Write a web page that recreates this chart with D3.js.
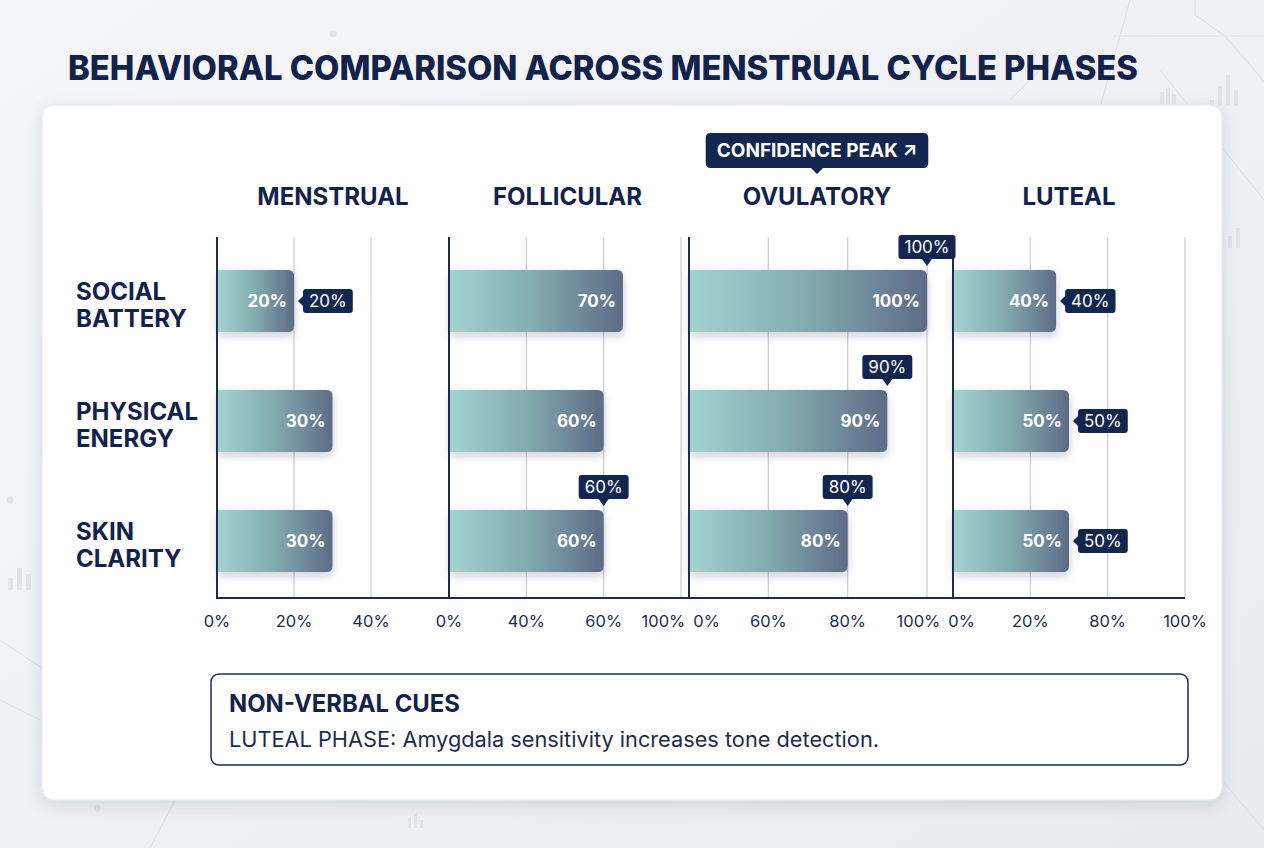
<!DOCTYPE html>
<html><head><meta charset="utf-8">
<script src="https://cdn.jsdelivr.net/npm/d3@7"></script>
<style>
body{margin:0;background:#eef0f3;}
svg{display:block;font-family:Inter,"Noto Sans",sans-serif;}
</style>
</head><body>
<svg id="c" width="1264" height="848"></svg>
<script>
// ---------- DATA ----------
const chartTitle = "BEHAVIORAL COMPARISON ACROSS MENSTRUAL CYCLE PHASES";
const phases = ["MENSTRUAL", "FOLLICULAR", "OVULATORY", "LUTEAL"];
const metrics = [["SOCIAL", "BATTERY"], ["PHYSICAL", "ENERGY"], ["SKIN", "CLARITY"]];
const menstrualValues = [20, 30, 30];
const follicularValues = [70, 60, 60];
const ovulatoryValues = [100, 90, 80];
const lutealValues = [40, 50, 50];
const menstrualTicks = [0, 20, 40];
const follicularTicks = [0, 40, 60, 100];
const ovulatoryTicks = [0, 60, 80, 100];
const lutealTicks = [0, 20, 80, 100];
const menstrualCallouts = ["right", null, null];
const follicularCallouts = [null, null, "top"];
const ovulatoryCallouts = ["top", "top", "top"];
const lutealCallouts = ["right", "right", "right"];
const badgeText = "CONFIDENCE PEAK \u2197";
const badgePhase = "OVULATORY";
const noteTitle = "NON-VERBAL CUES";
const noteBody = "LUTEAL PHASE: Amygdala sensitivity increases tone detection.";

const phaseValues = [menstrualValues, follicularValues, ovulatoryValues, lutealValues];
const phaseTicks = [menstrualTicks, follicularTicks, ovulatoryTicks, lutealTicks];
const phaseCallouts = [menstrualCallouts, follicularCallouts, ovulatoryCallouts, lutealCallouts];

// ---------- LAYOUT ----------
const NAVY = "#13224a";
const CALLOUT = "#132650";
const panelStart = [217, 449, 689, 953];
const panelSpan = [154, 232, 238, 232];
const panelEnd = [449, 686, 945, 1185];
const plotTop = 237, plotBottom = 598;

const svg = d3.select("#c");
const defs = svg.append("defs");

// background gradient
const bg = defs.append("linearGradient").attr("id", "bg").attr("x1", 0).attr("y1", 0).attr("x2", 1).attr("y2", 1);
bg.append("stop").attr("offset", 0).attr("stop-color", "#f5f6f8");
bg.append("stop").attr("offset", 1).attr("stop-color", "#e8ebef");
svg.append("rect").attr("width", 1264).attr("height", 848).attr("fill", "url(#bg)");

// decorative faint background lines
const deco = svg.append("g").attr("stroke", "#dde0e5").attr("fill", "none").attr("stroke-width", 1);
[[[1130, 0], [1060, 250]], [[1195, 0], [1195, 15], [1225, 36], [1264, 36]], [[1113, 36], [1225, 36]],
 [[1225, 36], [1280, 100]], [[1060, 50], [1010, 100]], [[1160, 70], [1264, 200]],
 [[0, 640], [45, 670]], [[0, 700], [40, 720]], [[1222, 780], [1264, 830]], [[150, 848], [175, 800]]]
  .forEach(p => deco.append("path").attr("d", d3.line()(p)));
const decoBars = svg.append("g").attr("fill", "#e0e3e8");
[[1160, 92, 4, 12], [1166, 88, 4, 16], [1172, 94, 4, 10], [1210, 100, 4, 6], [1218, 86, 4, 20], [1226, 75, 4, 31], [1234, 90, 4, 16],
 [8, 578, 5, 12], [17, 568, 5, 22], [26, 574, 5, 16], [1228, 236, 4, 12], [1236, 228, 4, 20],
 [408, 818, 3, 10], [414, 814, 3, 14], [420, 820, 3, 8]]
  .forEach(b => decoBars.append("rect").attr("x", b[0]).attr("y", b[1]).attr("width", b[2]).attr("height", b[3]));
[[333, 34], [10, 500], [97, 808]].forEach(d => svg.append("circle").attr("cx", d[0]).attr("cy", d[1]).attr("r", 3.5).attr("fill", "#dfe2e7"));

// title
svg.append("text").attr("x", 68).attr("y", 80).attr("fill", NAVY)
  .attr("font-size", 34).attr("font-weight", 800)
  .attr("textLength", 1070).attr("lengthAdjust", "spacingAndGlyphs")
  .text(chartTitle);

// card
const cardShadow = defs.append("filter").attr("id", "cardShadow").attr("x", -0.1).attr("y", -0.1).attr("width", 1.2).attr("height", 1.2);
cardShadow.append("feDropShadow").attr("dx", 0).attr("dy", 5).attr("stdDeviation", 8).attr("flood-color", "#1d2b4f").attr("flood-opacity", 0.12);
svg.append("rect").attr("x", 42).attr("y", 105).attr("width", 1180).attr("height", 695).attr("rx", 12)
  .attr("fill", "#ffffff").attr("stroke", "#e3e6ea").attr("filter", "url(#cardShadow)");

// bar gradient & shadow
const barGrad = defs.append("linearGradient").attr("id", "barGrad").attr("x1", 0).attr("x2", 1).attr("y1", 0).attr("y2", 0);
barGrad.append("stop").attr("offset", 0).attr("stop-color", "#a2d3cf");
barGrad.append("stop").attr("offset", 0.5).attr("stop-color", "#82abae");
barGrad.append("stop").attr("offset", 1).attr("stop-color", "#5d6b87");
const barShadow = defs.append("filter").attr("id", "barShadow").attr("x", -0.1).attr("y", -0.2).attr("width", 1.3).attr("height", 1.6);
barShadow.append("feDropShadow").attr("dx", 0).attr("dy", 4).attr("stdDeviation", 4).attr("flood-color", "#1d2b4f").attr("flood-opacity", 0.22);

// row scale
const y = d3.scaleBand().domain(d3.range(metrics.length)).range([241, 601]).paddingInner(0.4833).paddingOuter(0.2417);

// row labels
metrics.forEach((lines, i) => {
  const cy = y(i) + y.bandwidth() / 2;
  const t = svg.append("text").attr("x", 76).attr("y", cy - 1).attr("fill", NAVY).attr("font-size", 24).attr("font-weight", 700);
  lines.forEach((l, k) => t.append("tspan").attr("x", 76).attr("dy", k === 0 ? 0 : 27).text(l));
});

const gGrid = svg.append("g");
const gBars = svg.append("g");
const gAxis = svg.append("g");
const gCallouts = svg.append("g");
const tickLabels = [];

function roundRightRect(x0, y0, w, h, r) {
  r = Math.min(r, w / 2);
  return `M${x0},${y0}H${x0 + w - r}Q${x0 + w},${y0} ${x0 + w},${y0 + r}V${y0 + h - r}Q${x0 + w},${y0 + h} ${x0 + w - r},${y0 + h}H${x0}Z`;
}

phases.forEach((phase, p) => {
  const ticks = phaseTicks[p];
  const left = panelStart[p];
  const x = d3.scaleLinear().domain(ticks)
    .range(ticks.map((t, k) => left + panelSpan[p] * k / (ticks.length - 1)));

  // header
  svg.append("text").attr("x", (panelStart[p] + panelEnd[p]) / 2).attr("y", 205).attr("text-anchor", "middle")
    .attr("fill", NAVY).attr("font-size", 24).attr("font-weight", 700).text(phase);

  // gridlines
  ticks.slice(1).forEach(t => {
    gGrid.append("line").attr("x1", x(t)).attr("x2", x(t)).attr("y1", plotTop).attr("y2", plotBottom)
      .attr("stroke", "#c9ccd5").attr("stroke-width", 1.2);
  });
  // left axis
  gAxis.append("line").attr("x1", left).attr("x2", left).attr("y1", plotTop).attr("y2", plotBottom + 1)
    .attr("stroke", "#1d2b4f").attr("stroke-width", 2);
  // tick labels
  ticks.forEach(t => tickLabels.push({ x: x(t), text: t + "%" }));

  // bars
  phaseValues[p].forEach((v, i) => {
    const y0 = y(i), h = y.bandwidth(), x1 = x(v);
    gBars.append("path").attr("d", roundRightRect(left + 1, y0, x1 - left - 1, h, 6))
      .attr("fill", "url(#barGrad)").attr("filter", "url(#barShadow)");
    gBars.append("text").attr("x", x1 - 7).attr("y", y0 + h / 2 + 6).attr("text-anchor", "end")
      .attr("fill", "#ffffff").attr("font-size", 17).attr("font-weight", 700).text(v + "%");

    const mode = phaseCallouts[p][i];
    if (mode) {
      const g = gCallouts.append("g");
      const txt = g.append("text").attr("font-size", 17).attr("fill", "#ffffff").attr("text-anchor", "middle").text(v + "%");
      const tw = txt.node().getComputedTextLength();
      const bw = tw + 12, bh = 24;
      if (mode === "right") {
        const bx = x1 + 9, cy = y0 + h / 2;
        g.insert("path", "text").attr("d",
          `M${bx + 3},${cy - bh / 2}H${bx + bw - 3}Q${bx + bw},${cy - bh / 2} ${bx + bw},${cy - bh / 2 + 3}V${cy + bh / 2 - 3}Q${bx + bw},${cy + bh / 2} ${bx + bw - 3},${cy + bh / 2}H${bx + 3}Q${bx},${cy + bh / 2} ${bx},${cy + bh / 2 - 3}V${cy + 5}L${x1 + 4},${cy}L${bx},${cy - 5}V${cy - bh / 2 + 3}Q${bx},${cy - bh / 2} ${bx + 3},${cy - bh / 2}Z`)
          .attr("fill", CALLOUT);
        txt.attr("x", bx + bw / 2).attr("y", cy + 6);
      } else {
        const by1 = y0 - 11, by0 = by1 - bh, bx = x1 - bw / 2;
        g.insert("path", "text").attr("d",
          `M${bx + 3},${by0}H${bx + bw - 3}Q${bx + bw},${by0} ${bx + bw},${by0 + 3}V${by1 - 3}Q${bx + bw},${by1} ${bx + bw - 3},${by1}H${x1 + 5}L${x1},${y0 - 4}L${x1 - 5},${by1}H${bx + 3}Q${bx},${by1} ${bx},${by1 - 3}V${by0 + 3}Q${bx},${by0} ${bx + 3},${by0}Z`)
          .attr("fill", CALLOUT);
        txt.attr("x", x1).attr("y", by0 + bh / 2 + 6);
      }
    }
  });

  // badge above header
  if (phase === badgePhase) {
    const cx = (panelStart[p] + panelEnd[p]) / 2;
    const g = svg.append("g");
    const txt = g.append("text").attr("font-size", 19).attr("font-weight", 700).attr("fill", "#ffffff")
      .attr("text-anchor", "middle").attr("x", cx).attr("y", 157).text(badgeText);
    const tw = txt.node().getComputedTextLength();
    const bw = tw + 22, bx = cx - bw / 2, b0 = 133, b1 = 168;
    g.insert("path", "text").attr("d",
      `M${bx + 5},${b0}H${bx + bw - 5}Q${bx + bw},${b0} ${bx + bw},${b0 + 5}V${b1 - 5}Q${bx + bw},${b1} ${bx + bw - 5},${b1}H${cx + 6}L${cx},${b1 + 6}L${cx - 6},${b1}H${bx + 5}Q${bx},${b1} ${bx},${b1 - 5}V${b0 + 5}Q${bx},${b0} ${bx + 5},${b0}Z`)
      .attr("fill", CALLOUT);
  }
});

// bottom axis line
gAxis.append("line").attr("x1", panelStart[0]).attr("x2", panelEnd[panelEnd.length - 1]).attr("y1", plotBottom).attr("y2", plotBottom)
  .attr("stroke", "#1d2b4f").attr("stroke-width", 2);

// tick labels with simple overlap resolution
const tl = gAxis.selectAll("text.tick").data(tickLabels).join("text").attr("class", "tick")
  .attr("y", 627).attr("text-anchor", "middle").attr("font-size", 16.5).attr("fill", "#1d2b4f")
  .text(d => d.text);
tl.each(function (d) { d.w = this.getComputedTextLength(); });
for (let k = 1; k < tickLabels.length; k++) {
  const a = tickLabels[k - 1], b = tickLabels[k];
  const overlap = (a.x + a.w / 2 + 8) - (b.x - b.w / 2);
  if (overlap > 0) { a.x -= overlap / 2; b.x += overlap / 2; }
}
tl.attr("x", d => d.x);

// note box
svg.append("rect").attr("x", 211).attr("y", 674).attr("width", 977).attr("height", 91).attr("rx", 8)
  .attr("fill", "#ffffff").attr("stroke", "#1d2b4f").attr("stroke-width", 1.5);
svg.append("text").attr("x", 229).attr("y", 712).attr("fill", NAVY).attr("font-size", 24).attr("font-weight", 700)
  .attr("textLength", 231).attr("lengthAdjust", "spacingAndGlyphs").text(noteTitle);
svg.append("text").attr("x", 229).attr("y", 747).attr("fill", "#1d2b4f").attr("font-size", 21)
  .attr("textLength", 650).attr("lengthAdjust", "spacingAndGlyphs").text(noteBody);
</script>
</body></html>
